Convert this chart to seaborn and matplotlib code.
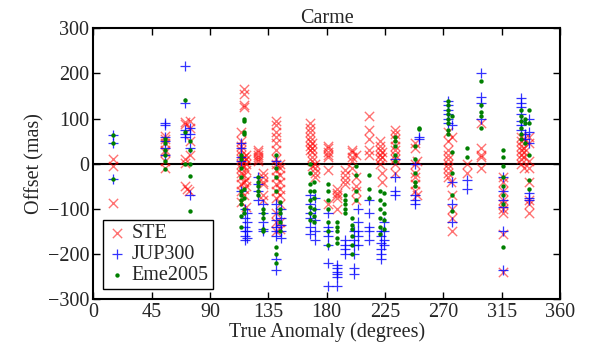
import numpy as np
import pandas as pd
import matplotlib
matplotlib.use("Agg")
import matplotlib.pyplot as plt
import seaborn as sns

# offsets (mas) vs true anomaly (deg)
ste = [
    (15, 10), (15, -5), (15, -88),
    (55, 62), (55, 55), (55, 45), (55, 30), (55, 25), (55, 5), (55, -10),
    (71, 92), (71, 88), (71, 10), (71, 2), (71, -50), (72, -55), (74, -60),
    (75, 95), (75, 80), (75, 50), (75, 20),
    (114, 70), (114, 50), (114, 40), (114, 30), (114, 20), (114, 10), (114, 0),
    (114, -10), (114, -20), (114, -30), (114, -45), (114, -60), (114, -85),
    (116, 165), (116, 155), (116, 130), (116, 125), (116, 15), (116, 5),
    (116, -5), (116, -25), (116, -40), (116, -55), (116, -70),
    (118, 20), (118, 10), (118, 0), (118, -15), (118, -35), (118, -50), (118, -95),
    (127, 30), (127, 25), (127, 20), (127, 15), (127, 10), (127, 5),
    (131, -20), (131, -30), (131, -40), (131, -45), (131, -70), (131, -80),
    (141, 95), (141, 85), (141, 70), (141, 60), (141, 45), (141, 30), (141, 10),
    (141, 0), (141, -15), (141, -30), (141, -45), (141, -60), (141, -75),
    (141, -110), (141, -130), (141, -150),
    (144, 0), (144, -10), (144, -25), (144, -40), (144, -55), (144, -70),
    (144, -90), (144, -130), (144, -145),
    (167, 90), (167, 80), (167, 70), (167, 60), (167, 50), (167, 40), (167, 30),
    (169, 45), (169, 35), (169, 25), (169, 15), (169, 5), (169, -5),
    (171, 0), (171, -10), (171, -20), (171, -30),
    (181, 40), (181, 35), (181, 25), (181, 20), (181, 15), (181, -15), (181, -90),
    (188, -55), (188, -65), (188, -70), (188, -75), (188, -100),
    (194, -15), (194, -25), (194, -35), (194, -45),
    (200, 30), (200, 25), (200, 15), (200, 5), (200, -10),
    (203, 20), (203, -30), (203, -50), (203, -60), (203, -80),
    (213, 105), (213, 75), (213, 55), (213, 30), (213, 20),
    (221, 50), (221, 40), (221, 30), (221, 20), (221, 10), (221, 0),
    (223, 25), (223, 15), (223, -20), (223, -40),
    (233, 75), (233, 65), (233, 55), (233, 40), (233, 30), (233, 20), (233, 10),
    (233, 0), (233, -20),
    (248, 45), (248, 35), (248, 0), (248, -20), (248, -30), (248, -45), (248, -60),
    (250, 5), (250, -70),
    (274, 70), (274, 50), (274, 30), (274, 20), (274, 10), (274, 0), (274, -10),
    (274, -20), (274, -30), (276, -40), (277, 60), (277, -70), (277, -100),
    (277, -120), (277, -150),
    (288, 0), (288, -20),
    (299, 90), (299, 35), (299, 20), (299, 15), (299, -10),
    (316, -30), (316, -40), (316, -60), (316, -80), (316, -90), (316, -100),
    (316, -110), (316, -155), (316, -240),
    (330, 60), (330, 50), (330, 40), (330, 30), (330, 20), (330, 10), (330, 0),
    (332, 55), (332, 35), (332, 25), (332, 15), (332, -10),
    (336, 60), (336, 45), (336, 5), (336, -10), (336, -40), (336, -80),
    (336, -90), (336, -110),
]

jup300 = [
    (15, 63), (15, 45), (15, -33),
    (55, 90), (55, 85), (55, 60), (55, 50), (55, 35), (55, 20),
    (71, 217), (71, 135), (71, 75), (71, 65), (71, 60),
    (75, 80), (75, 65), (75, 35), (75, -70),
    (114, 45), (114, 35), (114, 15), (114, 5), (114, -60),
    (117, -100), (117, -120), (117, -140), (117, -150), (117, -160), (117, -170),
    (119, -110), (119, -130), (119, -150), (119, -165),
    (127, -30), (127, -45), (127, -60), (127, -80),
    (131, -90), (131, -110), (131, -130), (131, -145), (131, -150),
    (141, 5), (141, -90), (141, -110), (141, -125), (141, -140), (141, -150),
    (141, -160), (141, -210), (141, -235),
    (145, -100), (145, -120), (145, -135), (145, -150), (145, -165),
    (167, -70), (167, -90), (167, -110), (167, -120), (167, -140), (167, -155),
    (171, -75), (171, -100), (171, -125), (171, -150), (171, -170),
    (181, -110), (181, -140), (181, -150), (181, -160), (181, -180),
    (181, -220), (181, -270),
    (188, -225), (188, -230), (188, -240), (188, -245), (188, -250), (188, -270),
    (194, -170), (194, -180), (194, -190), (194, -200),
    (201, -150), (201, -170), (201, -180), (201, -200), (201, -230), (201, -245),
    (204, -100), (204, -130), (204, -150), (204, -160), (204, -180),
    (213, -80), (213, -110), (213, -140), (213, -150), (213, -170),
    (222, -150), (222, -160), (222, -175), (222, -190), (222, -200), (222, -210),
    (224, -130), (224, -150), (224, -170), (224, -180),
    (233, 10), (233, -30), (233, -60), (233, -70),
    (248, 0), (248, -70), (248, -80), (248, -90),
    (251, 60), (251, 55),
    (274, 140), (274, 130), (274, 120), (274, 110), (274, 100), (274, 90),
    (277, 85), (277, -40), (277, -90), (277, -130),
    (288, -35), (288, -55),
    (299, 202), (299, 148), (299, 135), (299, 100),
    (316, -30), (316, -60), (316, -80), (316, -95), (316, -150), (316, -235),
    (330, 145), (330, 135), (330, 125), (330, 110), (330, 95), (330, 85), (330, 75),
    (333, 65), (333, 55), (336, 100), (336, 70), (336, 45), (336, -65),
    (336, -75), (336, -80),
]

eme2005 = [
    (15, 63), (15, 45), (15, -33),
    (55, 55), (55, 45), (55, 30), (55, 20), (55, 5), (55, -12),
    (71, 142), (71, 70), (71, 0),
    (75, 50), (75, 30), (75, 0), (75, -28), (75, -105),
    (114, 20), (114, 10), (114, -10), (114, -30), (114, -60), (114, -70),
    (114, -80), (114, -90), (114, -115), (114, -140),
    (116, 100), (116, 95), (116, 70), (116, 65), (116, -55), (116, -75),
    (116, -100), (116, -110),
    (127, -30), (127, -40), (127, -50), (127, -60), (127, -70),
    (131, -100), (131, -110), (131, -120), (131, -145), (131, -150),
    (141, 20), (141, -10), (141, -30), (141, -60), (141, -185), (141, -200),
    (141, -220),
    (144, -85), (144, -100), (144, -110), (144, -130), (144, -150),
    (167, 0), (167, -20), (167, -45), (167, -60), (167, -80), (167, -95),
    (167, -110), (167, -125),
    (170, -40), (170, -60), (170, -75), (170, -100), (170, -115), (170, -130),
    (181, -45), (181, -60), (181, -80), (181, -100), (181, -130), (181, -150),
    (181, -180),
    (188, -130), (188, -140), (188, -150), (188, -165), (188, -175),
    (194, -70), (194, -80), (194, -90), (194, -100), (194, -110),
    (200, -120), (200, -135), (200, -145), (200, -160), (200, -180), (200, -200),
    (203, -5), (203, -25), (203, -60), (203, -80),
    (213, -25), (213, -55), (213, -75),
    (221, -60), (221, -80), (221, -100), (221, -120), (221, -140), (221, -155),
    (224, -65), (224, -90), (224, -110), (224, -125), (224, -145),
    (233, 60), (233, 50), (233, 40), (233, 20), (233, 5),
    (248, 40), (248, 10), (248, -20), (248, -40), (248, -50),
    (251, 80), (251, 78),
    (274, 140), (274, 130), (274, 120), (274, 110), (274, 100), (274, 90),
    (274, 75), (274, 65),
    (277, 105), (277, 25), (277, -20), (277, -70), (277, -105),
    (288, 35), (288, 15),
    (299, 183), (299, 130), (299, 115), (299, 105), (299, 80),
    (316, 30), (316, 15), (316, -5), (316, -30), (316, -50), (316, -70),
    (316, -90), (316, -185),
    (330, 120), (330, 105), (330, 95), (330, 80), (330, 65), (330, 55),
    (333, 100), (333, 90), (333, 45),
    (336, 120), (336, 90), (336, 20), (336, -35), (336, -55),
]

series_names = ["STE", "JUP300", "Eme2005"]

frames = []
for name, pts in zip(series_names, [ste, jup300, eme2005]):
    d = pd.DataFrame(pts, columns=["anomaly", "offset"])
    d["model"] = name
    frames.append(d)
df = pd.concat(frames, ignore_index=True)

sns.set_style("ticks")
plt.rcParams["font.family"] = ["Liberation Serif", "DejaVu Serif"]
plt.rcParams["mathtext.fontset"] = "stix"
plt.rcParams["xtick.direction"] = "in"
plt.rcParams["ytick.direction"] = "in"

fs = 14.5

fig = plt.figure(figsize=(5.9, 3.54), dpi=100)
ax = fig.add_axes([0.158, 0.155, 0.791, 0.765])

ax.axhline(0, color="black", lw=1.5, zorder=1)

sns.scatterplot(data=df[df.model == "STE"], x="anomaly", y="offset", ax=ax,
                marker="x", color="red", s=45, linewidth=1.0, alpha=0.55,
                label="STE", zorder=2)
sns.scatterplot(data=df[df.model == "JUP300"], x="anomaly", y="offset", ax=ax,
                marker="+", color="blue", s=45, linewidth=0.9, alpha=0.8,
                label="JUP300", zorder=3)
sns.scatterplot(data=df[df.model == "Eme2005"], x="anomaly", y="offset", ax=ax,
                marker="o", color="green", s=10, linewidth=0,
                label="Eme2005", zorder=4)

ax.set_xlim(0, 360)
ax.set_ylim(-300, 300)
ax.set_xticks(range(0, 361, 45))
ax.set_yticks(range(-300, 301, 100))
ax.tick_params(axis="both", which="both", labelsize=fs, top=True, right=True,
               length=5, width=1, color="black", pad=3)
for sp in ax.spines.values():
    sp.set_linewidth(1.5)
    sp.set_color("black")

ax.set_title("Carme", fontsize=fs, pad=2)
ax.set_xlabel("True Anomaly (degrees)", fontsize=fs, labelpad=0)
ax.set_ylabel("Offset (mas)", fontsize=fs, labelpad=2)

leg = ax.legend(loc="lower left", fontsize=fs, frameon=True, fancybox=False,
                edgecolor="black", framealpha=1, handletextpad=0.2,
                borderpad=0.2, labelspacing=0.1, borderaxespad=0.5,
                handlelength=1.0, scatterpoints=1)
leg.get_frame().set_linewidth(1.0)

fig.savefig("out.png", dpi=100)
